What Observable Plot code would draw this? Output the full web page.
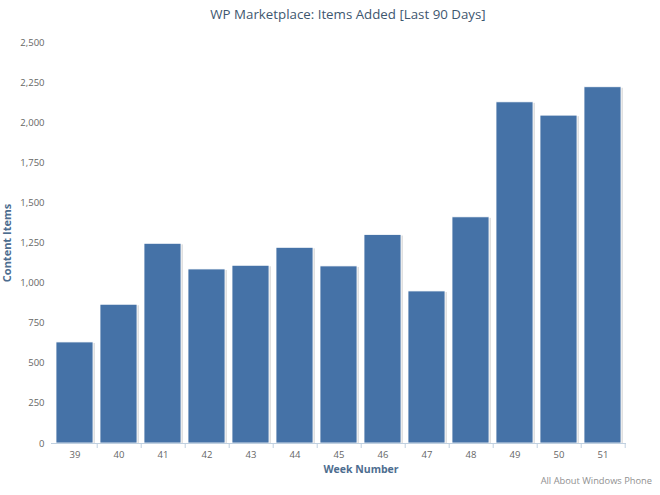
<!DOCTYPE html>
<html>
<head>
<meta charset="utf-8">
<script src="https://cdn.jsdelivr.net/npm/d3@7"></script>
<script src="https://cdn.jsdelivr.net/npm/@observablehq/plot@0.6"></script>
<style>
  html, body { margin: 0; padding: 0; background: #fff; }
  #wrap { position: relative; width: 660px; height: 495px; font-family: "Open Sans", "DejaVu Sans", sans-serif; }
  #title { position: absolute; top: 5px; left: 0; width: 660px; text-align: center; padding-left: 36px; box-sizing: border-box;
           font-size: 13.3px; color: #3E576F; }
  #credit { position: absolute; right: 8px; bottom: 8px; font-size: 9.3px; color: #909090; }
  #chart { position: absolute; top: 0; left: 0; }
</style>
</head>
<body>
<div id="wrap">
  <div id="chart"></div>
  <div id="title">WP Marketplace: Items Added [Last 90 Days]</div>
  <div id="credit">All About Windows Phone</div>
</div>
<script>
const weeks = ["39","40","41","42","43","44","45","46","47","48","49","50","51"];
const items = [630, 865, 1245, 1085, 1108, 1220, 1104, 1300, 948, 1410, 2127, 2044, 2221];
const yTicks = [0, 250, 500, 750, 1000, 1250, 1500, 1750, 2000, 2250, 2500];

const data = weeks.map((w, i) => ({week: w, value: items[i]}));

const W = 660, H = 495, mL = 51, mR = 34, mT = 42, mB = 52;
const pIn = 0.15, pOut = 0.05;
const step = (W - mL - mR) / (weeks.length - pIn + 2 * pOut);

const chart = Plot.plot({
  width: W,
  height: H,
  marginLeft: mL,
  marginRight: mR,
  marginTop: mT,
  marginBottom: mB,
  style: {fontFamily: "'Open Sans', 'DejaVu Sans', sans-serif", fontSize: "9.5px", color: "#666", background: "transparent"},
  x: {domain: weeks, paddingInner: pIn, paddingOuter: pOut, align: 0.5, label: null},
  y: {domain: [0, 2500], label: null},
  marks: [
    Plot.gridY(yTicks, {stroke: "#C8C8C8", strokeOpacity: 1, x1: mL - 2}),
    Plot.barY(data, {x: "week", y: "value", fill: "#000", fillOpacity: 0.12, dx: 2, dy: 1}),
    Plot.barY(data, {x: "week", y: "value", fill: "#4572A7", stroke: "#fff", strokeWidth: 0.8}),
    Plot.ruleY([0], {stroke: "#C0D0E0", strokeWidth: 1}),
    Plot.axisX({tickSize: 5, tickFormat: () => "", dx: step / 2, stroke: "#C0D0E0", label: null}),
    Plot.axisX({tickSize: 0, tickPadding: 8, fill: "#666", label: null}),
    Plot.axisY(yTicks, {tickSize: 0, tickPadding: 7, tickFormat: d3.format(","), fill: "#666", label: null}),
    Plot.text(["Week Number"], {frameAnchor: "bottom", dx: 22, dy: 29, fill: "#4D6D8F", fontWeight: "bold", fontSize: 10.5}),
    Plot.text(["Content Items"], {frameAnchor: "left", textAnchor: "middle", rotate: -90, dx: -44, fill: "#4D6D8F", fontWeight: "bold", fontSize: 11})
  ]
});
document.getElementById("chart").appendChild(chart);
</script>
</body>
</html>
